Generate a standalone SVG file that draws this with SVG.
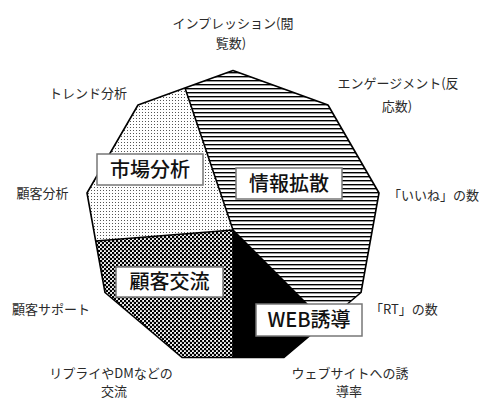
<svg xmlns="http://www.w3.org/2000/svg" width="482" height="400" viewBox="0 0 482 400">
<style>
.lbl{font-family:"Noto Sans CJK JP","Noto Sans",sans-serif;font-size:13px;fill:#2a2a2a}
.box{fill:#fff;stroke:#777;stroke-width:1.5}
.bt{font-family:"Noto Sans CJK JP","Noto Sans",sans-serif;font-size:20px;font-weight:500;fill:#111;text-anchor:middle}
.edge{fill:none;stroke:#000;stroke-width:1.6;stroke-linejoin:round}
</style>
<defs>
<pattern id="stripes" width="6" height="4" patternUnits="userSpaceOnUse">
<rect width="6" height="4" fill="#fff"/>
<rect y="0" width="6" height="1.4" fill="#000"/>
</pattern>
<pattern id="dots" width="3" height="3" patternUnits="userSpaceOnUse">
<rect width="3" height="3" fill="#fff"/>
<rect x="1" y="1" width="1" height="1" fill="#555"/>
</pattern>
<pattern id="cross" width="4" height="4" patternUnits="userSpaceOnUse">
<rect width="4" height="4" fill="#fff"/>
<circle cx="1" cy="1" r="1.3" fill="#000"/>
<circle cx="3" cy="3" r="1.3" fill="#000"/>
</pattern>
</defs>
<g id="chart">
<g id="region-info"><polygon points="233,230 185,88 233,70.5 328,105 379,193 361,292.5 325.5,322.5" fill="url(#stripes)"/></g>
<g id="region-web"><polygon points="233,230 325.5,322.5 284,357.5 233,357.5" fill="#000"/></g>
<g id="region-customer"><polygon points="233,230 233,357.5 182,357.5 105,292.5 95.7,241" fill="url(#cross)"/></g>
<g id="region-market"><polygon points="233,230 95.7,241 87,193 138,105 185,88" fill="url(#dots)"/></g>
</g>
<g id="connectors">
<polyline class="edge" points="185,88 233,230 325.5,322.5"/>
<polyline class="edge" points="95.7,241 233,230 233,357.5"/>
<polygon class="edge" stroke-width="2" points="233,70.5 328,105 379,193 361,292.5 284,357.5 182,357.5 105,292.5 87,193 138,105"/>
</g>
<g id="box-market"><rect class="box" x="97" y="154" width="106" height="31"/><text class="bt" x="150" y="176.5">市場分析</text></g>
<g id="box-info"><rect class="box" x="236" y="168" width="106" height="31"/><text class="bt" x="289" y="190.5">情報拡散</text></g>
<g id="box-customer"><rect class="box" x="116" y="267" width="107" height="30"/><text class="bt" x="169.5" y="289">顧客交流</text></g>
<g id="box-web"><rect class="box" x="256" y="304" width="106" height="32"/><text class="bt" x="309" y="327">WEB誘導</text></g>
<g id="labels">
<g id="lbl-impression"><text class="lbl" x="233" y="27.5" text-anchor="middle">インプレッション(閲</text><text class="lbl" x="231" y="47.5" text-anchor="middle">覧数)</text></g>
<g id="lbl-engagement"><text class="lbl" x="398" y="88" text-anchor="middle">エンゲージメント(反</text><text class="lbl" x="397" y="110.5" text-anchor="middle">応数)</text></g>
<g id="lbl-like"><text class="lbl" x="388" y="199.5">「いいね」の数</text></g>
<g id="lbl-rt"><text class="lbl" x="370" y="314">「RT」の数</text></g>
<g id="lbl-website"><text class="lbl" x="350" y="378" text-anchor="middle">ウェブサイトへの誘</text><text class="lbl" x="349" y="395.5" text-anchor="middle">導率</text></g>
<g id="lbl-reply"><text class="lbl" x="111" y="378" text-anchor="middle">リプライやDMなどの</text><text class="lbl" x="114" y="395.5" text-anchor="middle">交流</text></g>
<g id="lbl-support"><text class="lbl" x="51" y="314" text-anchor="middle">顧客サポート</text></g>
<g id="lbl-analysis"><text class="lbl" x="42.5" y="198" text-anchor="middle">顧客分析</text></g>
<g id="lbl-trend"><text class="lbl" x="88" y="98" text-anchor="middle">トレンド分析</text></g>
</g>
</svg>
